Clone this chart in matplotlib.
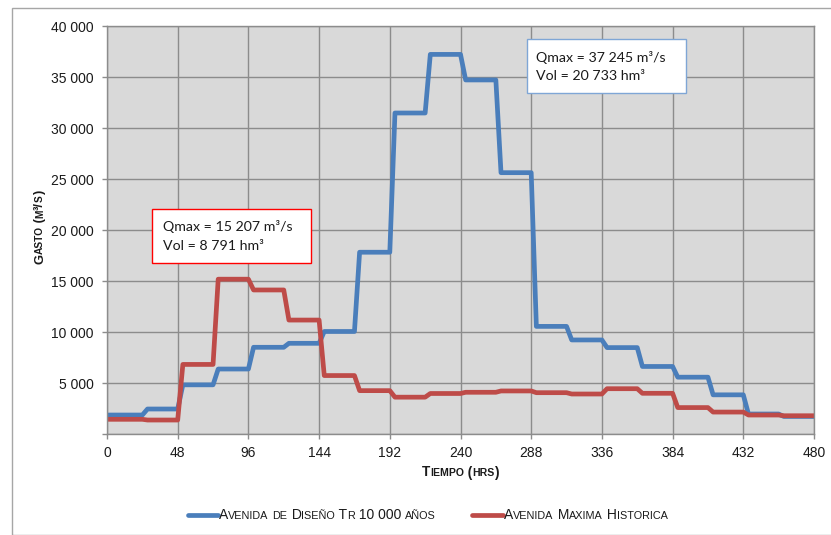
import matplotlib
matplotlib.use("Agg")
import matplotlib.pyplot as plt
from matplotlib.lines import Line2D
from matplotlib.patches import Rectangle
from matplotlib.transforms import IdentityTransform
from matplotlib.ticker import FuncFormatter, MultipleLocator

W, H = 831, 535
SANS = "Liberation Sans"
BOXFONT = "Lato"
BLUE = "#4a7ebb"
RED = "#be4b48"
GRID = "#8c8c8c"
BG = "#d9d9d9"
INK = "#1a1a1a"

# daily discharge (m3/s), one value per 24 h block, 0..480 h
day_start = list(range(0, 480, 24))
q_design = [1890, 2480, 4850, 6400, 8530, 8920, 10080, 17850, 31500, 37245,
            34740, 25650, 10580, 9250, 8500, 6650, 5600, 3870, 1990, 1750]
q_hist = [1470, 1400, 6850, 15207, 14150, 11200, 5760, 4280, 3640, 4000,
          4120, 4250, 4080, 3950, 4470, 4020, 2620, 2180, 1890, 1820]
label_design = "Avenida de Diseño Tr 10 000 años"
label_hist = "Avenida Maxima Historica"
box_design = ["Qmax = 37 245 m³/s", "Vol = 20 733 hm³"]
box_hist = ["Qmax = 15 207 m³/s", "Vol = 8 791 hm³"]

RAMP = 3.5  # hours the excel line takes to go from one daily value to the next


def stepline(starts, vals):
    t, v = [starts[0] + 1], [vals[0]]
    for k in range(1, len(vals)):
        t += [starts[k], starts[k] + RAMP]
        v += [vals[k - 1], vals[k]]
    t.append(480)
    v.append(vals[-1])
    return t, v


fig = plt.figure(figsize=(W / 100, H / 100), dpi=100)
px = IdentityTransform()

# outer chart border, clipped by the image at right and bottom
fig.patches.append(Rectangle((12, 0), W, H - 8, transform=px, fill=False,
                             ec="#a6a6a6", lw=1.0))

ax = fig.add_axes([107 / W, 1 - 434.3 / H, (814 - 107) / W, (434.3 - 26.3) / H])
ax.set_facecolor(BG)
ax.set_xlim(0, 480)
ax.set_ylim(0, 40000)
ax.xaxis.set_major_locator(MultipleLocator(48))
ax.yaxis.set_major_locator(MultipleLocator(5000))
ax.yaxis.set_major_formatter(FuncFormatter(
    lambda v, p: "" if v == 0 else f"{int(v):,}".replace(",", " ")))
ax.grid(True, color=GRID, lw=1.0)
ax.set_axisbelow(True)
for s in ax.spines.values():
    s.set_color(GRID)
    s.set_linewidth(1.0)
ax.tick_params(colors=GRID, length=3.6, width=1.0, labelcolor=INK, labelsize=10)
ax.tick_params(axis="x", pad=5)
ax.tick_params(axis="y", pad=6)
for lab in ax.get_xticklabels() + ax.get_yticklabels():
    lab.set_family(SANS)

for q, c in ((q_design, BLUE), (q_hist, RED)):
    t, v = stepline(day_start, q)
    ax.plot(t, v, color=c, lw=3.4, solid_joinstyle="round", solid_capstyle="round")

r = fig.canvas.get_renderer()


def measure(s, size, weight):
    # advance width: bracket the string so side bearings and spaces count
    def w(txt):
        t = fig.text(0, 0, txt, fontsize=size, weight=weight, family=SANS,
                     transform=px)
        e = t.get_window_extent(r).width
        t.remove()
        return e
    return w("|" + s + "|") - w("||")


def caps(x, y, s, big, small, weight="normal", rot=False):
    """Fake small caps: lower-case letters drawn as smaller capitals."""
    runs = []
    for ch in s:
        sz = small if ch.islower() else big
        if runs and runs[-1][1] == sz:
            runs[-1][0] += ch.upper()
        else:
            runs.append([ch.upper(), sz])
    pos = 0
    for txt, sz in runs:
        if txt.strip():
            kw = dict(fontsize=sz, weight=weight, family=SANS, color=INK,
                      transform=px, va="baseline", ha="left")
            if rot:
                fig.text(x, y + pos, txt, rotation=90, rotation_mode="anchor", **kw)
            else:
                fig.text(x + pos, y, txt, **kw)
        pos += measure(txt, sz, weight)


caps(43, H - 264, "Gasto (m³/s)", 9.3, 7.3, weight="bold", rot=True)
caps(422, H - 476.5, "Tiempo (hrs)", 9.8, 7.6, weight="bold")

# legend
for x0, x1, c, lab in ((188, 218, BLUE, label_design), (472, 503, RED, label_hist)):
    fig.lines.append(Line2D([x0, x1], [H - 515, H - 515], color=c, lw=3.4,
                            solid_capstyle="round", transform=px))
    caps(x1 + 1, H - 519, lab, 10, 7.8)

# annotation boxes
for (x0, y0, x1, y1), ec, lines, tx, ty in (
        ((152, 209, 311, 263), "#ff0000", box_hist, 163, 226.5),
        ((527, 39, 686, 93), "#7fa6d6", box_design, 536, 57.3)):
    fig.patches.append(Rectangle((x0, H - y1), x1 - x0, y1 - y0, transform=px,
                                 fc="white", ec=ec, lw=1.0, zorder=5))
    for i, ln in enumerate(lines):
        fig.text(tx, H - ty - i * 19, ln, ha="left", va="center", fontsize=10.2,
                 family=BOXFONT, color=INK, transform=px, zorder=6)

fig.savefig("out.png", dpi=100)
